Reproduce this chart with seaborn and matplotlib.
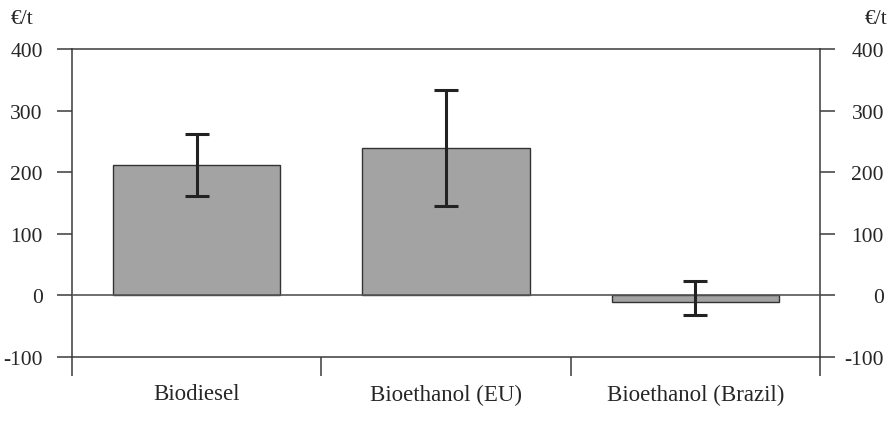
import numpy as np
import matplotlib
matplotlib.use("Agg")
import matplotlib.pyplot as plt
import seaborn as sns

categories = ["Biodiesel", "Bioethanol (EU)", "Bioethanol (Brazil)"]
values = [212, 240, -11]
err_low = [50, 95, 21]
err_high = [50, 93, 34]
yticks = [-100, 0, 100, 200, 300, 400]
unit = "€/t"

sns.set_theme(style="white")
plt.rcParams["font.family"] = ["Liberation Serif", "DejaVu Serif"]
fs = 15.5
line_col = "#3a3a3a"

fig = plt.figure(figsize=(8.92, 4.35), dpi=100)
ax = fig.add_axes([72 / 892, 77 / 435, 748 / 892, 308 / 435])

sns.barplot(x=categories, y=values, ax=ax, color="#a3a3a3", width=0.67,
            edgecolor="#333333", linewidth=1.0, saturation=1)
ax.errorbar(np.arange(len(categories)), values, yerr=[err_low, err_high],
            fmt="none", ecolor="#222222", elinewidth=2.2, capsize=8.5, capthick=2.2,
            zorder=5)

ax.set_xlim(-0.5, 2.5)
ax.set_ylim(-100, 400)
ax.axhline(0, color="#555555", lw=1.2, zorder=3)

for s in ax.spines.values():
    s.set_color(line_col)
    s.set_linewidth(1.1)

# x axis: boundary ticks, labels on minor ticks
ax.set_xticks([-0.5, 0.5, 1.5, 2.5])
ax.set_xticklabels([])
ax.set_xticks([0, 1, 2], minor=True)
ax.set_xticklabels(categories, minor=True, fontsize=16.5)
ax.tick_params(axis="x", which="major", bottom=True, direction="out",
               length=13.5, width=1.1, color=line_col)
ax.tick_params(axis="x", which="minor", bottom=True, length=0, pad=19)
ax.set_xlabel("")

# y axis left
ax.set_yticks(yticks)
ax.set_yticklabels([str(t) for t in yticks], fontsize=fs)
ax.tick_params(axis="y", left=True, direction="out", length=11, width=1.1,
               color=line_col, pad=10)
ax.set_ylabel("")

# y axis right
ax2 = ax.twinx()
ax2.set_ylim(-100, 400)
ax2.set_yticks(yticks)
ax2.set_yticklabels([str(t) for t in yticks], fontsize=fs, ha="right")
ax2.tick_params(axis="y", right=True, direction="out", length=11, width=1.1,
                color=line_col, pad=35)
for s in ax2.spines.values():
    s.set_visible(False)
ax2.grid(False)

fig.text(11 / 892, 1 - 20 / 435, unit, fontsize=fs, ha="left", va="center")
fig.text(887 / 892, 1 - 20 / 435, unit, fontsize=fs, ha="right", va="center")

fig.savefig("out.png", dpi=100)
